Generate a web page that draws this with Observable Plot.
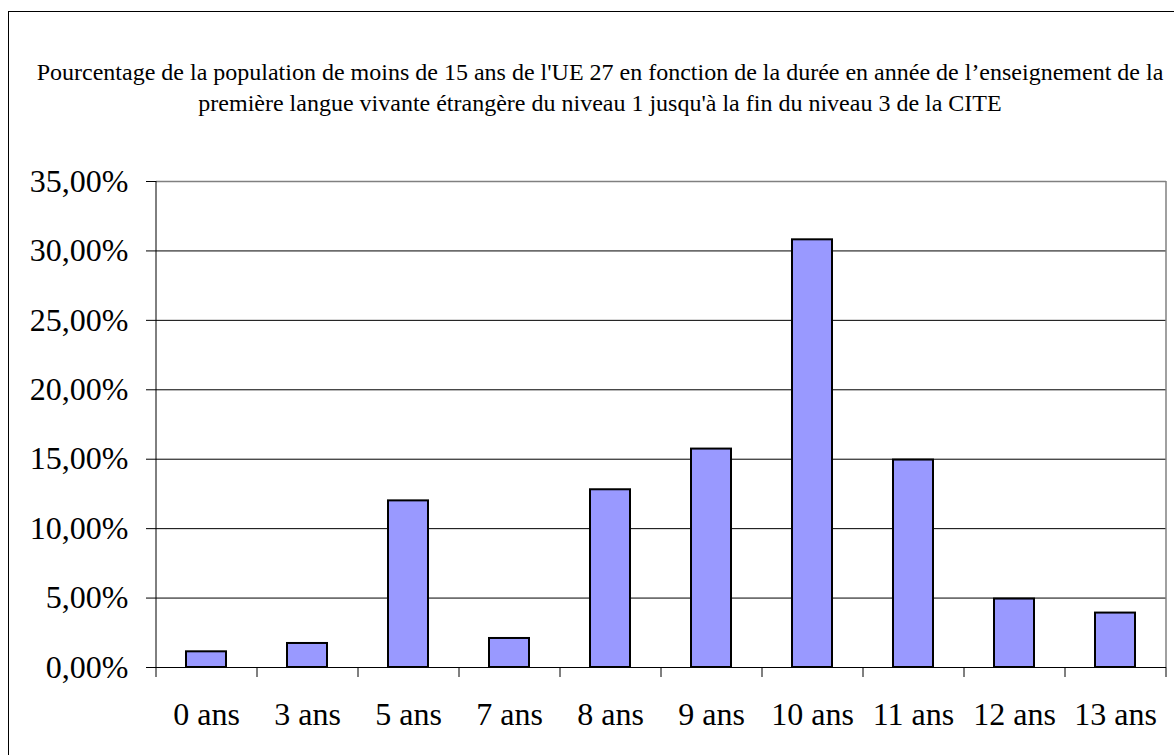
<!DOCTYPE html>
<html><head><meta charset="utf-8">
<script src="https://cdn.jsdelivr.net/npm/d3@7"></script>
<script src="https://cdn.jsdelivr.net/npm/@observablehq/plot@0.6"></script>
<style>
html,body{margin:0;padding:0;background:#fff;overflow:hidden;width:1174px;height:755px}
#frame{position:absolute;left:8px;top:11px;width:1300px;height:900px;border:1px solid #000;box-sizing:border-box}
#chart{position:absolute;left:0;top:0}
</style></head><body>
<div id="frame"></div>
<div id="title" style="position:absolute;left:0px;top:57px;width:1200px;text-align:center;font-family:'Liberation Serif', serif;font-size:24px;line-height:31px;color:#000;white-space:nowrap">Pourcentage de la population de moins de 15 ans de l'UE 27 en fonction de la durée en année de l’enseignement de la<br>première langue vivante étrangère du niveau 1 jusqu'à la fin du niveau 3 de la CITE</div>
<div id="chart"></div>
<script>
const categories = ["0 ans","3 ans","5 ans","7 ans","8 ans","9 ans","10 ans","11 ans","12 ans","13 ans"];
const values = [1.13, 1.73, 12.0, 2.09, 12.8, 15.73, 30.8, 14.94, 4.93, 3.92];
const yTicks = [0, 5, 10, 15, 20, 25, 30, 35];

const data = categories.map((c, i) => ({cat: c, value: values[i]}));
const W = 1174, H = 755, mL = 156, mR = 8, mT = 181, mB = 88;
const step = (W - mL - mR) / categories.length;
const fmt = d => d.toFixed(2).replace(".", ",") + "%";

const chart = Plot.plot({
  width: W, height: H,
  marginLeft: mL, marginRight: mR, marginTop: mT, marginBottom: mB,
  style: {fontFamily: '"Liberation Serif","Times New Roman",serif', fontSize: "32px", color: "#000", background: "transparent"},
  x: {type: "band", domain: categories, paddingInner: 0.6, paddingOuter: 0.3, label: null},
  y: {domain: [0, 35], nice: false, label: null},
  marks: [
    Plot.ruleY(yTicks.filter(t => t > 0 && t < 35), {stroke: "#000", strokeWidth: 1}),
    Plot.ruleY([35], {stroke: "#808080", strokeWidth: 1.5}),
    Plot.ruleX([categories[categories.length - 1]], {dx: step / 2, stroke: "#808080", strokeWidth: 1.5}),
    Plot.barY(data, {x: "cat", y: "value", fill: "#9999ff", stroke: "#000", strokeWidth: 2}),
    Plot.ruleY([0], {stroke: "#000", strokeWidth: 1}),
    Plot.ruleX([categories[0]], {dx: -step / 2, stroke: "#000", strokeWidth: 1}),
    Plot.axisY(yTicks, {tickSize: 10, tickPadding: 18, tickFormat: fmt, fontSize: 32, stroke: "#000"}),
    Plot.axisX({tickSize: 10, text: null, dx: -step / 2, stroke: "#000"}),
    Plot.axisX([categories[categories.length - 1]], {tickSize: 10, text: null, dx: step / 2, stroke: "#000"}),
    Plot.axisX({tickSize: 0, tickPadding: 35, fontSize: 32})
  ]
});
document.getElementById("chart").appendChild(chart);
</script>
</body></html>
